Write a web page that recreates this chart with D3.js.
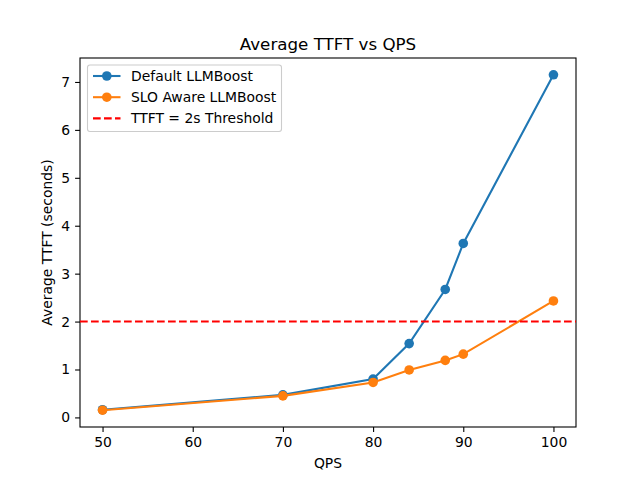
<!DOCTYPE html>
<html>
<head>
<meta charset="utf-8">
<script src="https://cdn.jsdelivr.net/npm/d3@7"></script>
<style>
  body { margin: 0; background: #fff; }
  text { font-family: "DejaVu Sans", sans-serif; fill: #000; }
</style>
</head>
<body>
<svg id="chart" width="640" height="480"></svg>
<script>
// data
var qps = [50, 70, 80, 84, 88, 90, 100];
var defaultTtft = [0.16, 0.47, 0.80, 1.54, 2.67, 3.63, 7.15];
var sloTtft = [0.15, 0.45, 0.73, 0.99, 1.19, 1.32, 2.43];
var xTicks = [50, 60, 70, 80, 90, 100];
var yTicks = [0, 1, 2, 3, 4, 5, 6, 7];
var threshold = 2;

var svg = d3.select("#chart");
var m = {left: 80, right: 576, top: 58, bottom: 427};

var x = d3.scaleLinear().domain([47.5, 102.5]).range([m.left, m.right]);
var y = d3.scaleLinear().domain([-0.2, 7.5]).range([m.bottom, m.top]);

var fs = 13.9;

// axes
var xAxis = svg.append("g")
    .attr("transform", "translate(0," + m.bottom + ")")
    .call(d3.axisBottom(x).tickValues(xTicks).tickSize(4.9).tickPadding(4.9));
var yAxis = svg.append("g")
    .attr("transform", "translate(" + m.left + ",0)")
    .call(d3.axisLeft(y).tickValues(yTicks).tickSize(4.9).tickPadding(4.9));
[xAxis, yAxis].forEach(function (a) {
    a.select(".domain").remove();
    a.selectAll("line").attr("stroke", "#000").attr("stroke-width", 1.1);
    a.selectAll("text").attr("font-family", "DejaVu Sans").attr("font-size", fs).attr("fill", "#000");
});

// frame
svg.append("rect")
    .attr("x", m.left).attr("y", m.top)
    .attr("width", m.right - m.left).attr("height", m.bottom - m.top)
    .attr("fill", "none").attr("stroke", "#000").attr("stroke-width", 1.1);

var line = d3.line().x(function (d) { return x(d[0]); }).y(function (d) { return y(d[1]); });

function series(vals, color) {
    var pts = qps.map(function (q, i) { return [q, vals[i]]; });
    svg.append("path").datum(pts)
        .attr("d", line).attr("fill", "none")
        .attr("stroke", color).attr("stroke-width", 2.08);
    svg.append("g").selectAll("circle").data(pts).enter().append("circle")
        .attr("cx", function (d) { return x(d[0]); })
        .attr("cy", function (d) { return y(d[1]); })
        .attr("r", 4.8).attr("fill", color);
}
series(defaultTtft, "#1f77b4");
series(sloTtft, "#ff7f0e");

// threshold
svg.append("line")
    .attr("x1", m.left).attr("x2", m.right)
    .attr("y1", y(threshold)).attr("y2", y(threshold))
    .attr("stroke", "#ff0000").attr("stroke-width", 2.08)
    .attr("stroke-dasharray", "7.7,3.3");

// title + labels
svg.append("text").attr("x", (m.left + m.right) / 2).attr("y", 49.5)
    .attr("text-anchor", "middle").attr("font-size", 16.7).text("Average TTFT vs QPS");
svg.append("text").attr("x", (m.left + m.right) / 2).attr("y", 468)
    .attr("text-anchor", "middle").attr("font-size", fs).text("QPS");
svg.append("text")
    .attr("transform", "translate(52," + (m.top + m.bottom) / 2 + ") rotate(-90)")
    .attr("text-anchor", "middle").attr("font-size", fs).text("Average TTFT (seconds)");

// legend
var legendItems = [
    {label: "Default LLMBoost", color: "#1f77b4", dash: null, marker: true},
    {label: "SLO Aware LLMBoost", color: "#ff7f0e", dash: null, marker: true},
    {label: "TTFT = 2s Threshold", color: "#ff0000", dash: "7.7,3.3", marker: false}
];
var lg = svg.append("g");
lg.append("rect")
    .attr("x", 87.5).attr("y", 65).attr("width", 194).attr("height", 66.5)
    .attr("rx", 2.5).attr("fill", "#fff").attr("fill-opacity", 0.8)
    .attr("stroke", "#cccccc").attr("stroke-width", 1.1);
legendItems.forEach(function (it, i) {
    var cy = 76 + i * 21.2;
    lg.append("line").attr("x1", 93).attr("x2", 120.5).attr("y1", cy).attr("y2", cy)
        .attr("stroke", it.color).attr("stroke-width", 2.08)
        .attr("stroke-dasharray", it.dash);
    if (it.marker) {
        lg.append("circle").attr("cx", 106.8).attr("cy", cy).attr("r", 4.8).attr("fill", it.color);
    }
    lg.append("text").attr("x", 131).attr("y", cy + 4.9).attr("font-size", fs).text(it.label);
});
</script>
</body>
</html>
